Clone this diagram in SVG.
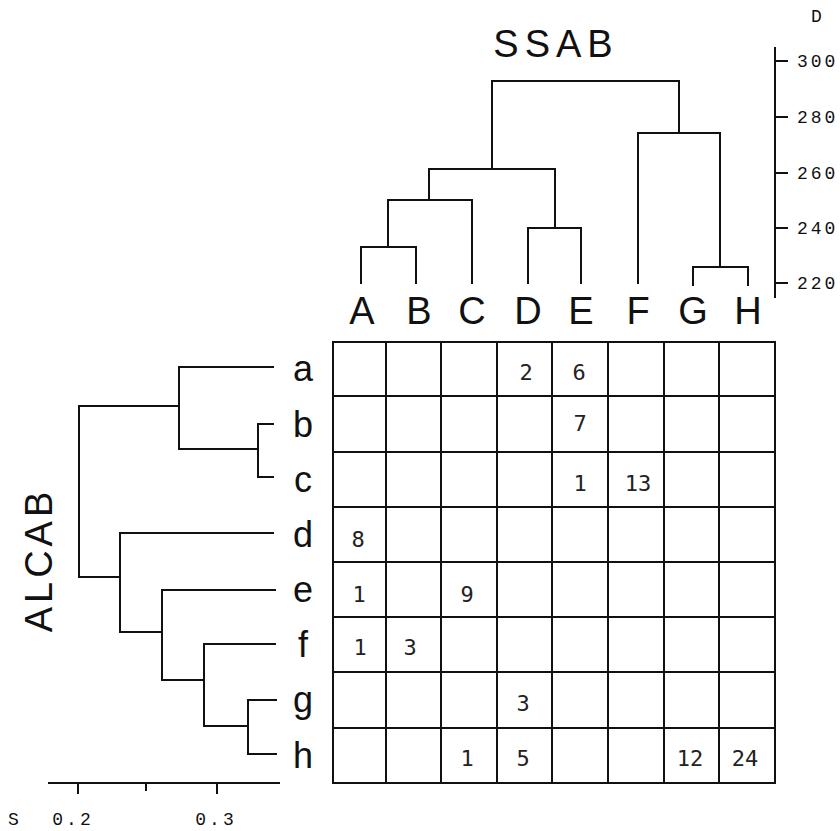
<svg xmlns="http://www.w3.org/2000/svg" width="840" height="831" viewBox="0 0 840 831">
<style>
.ln{fill:none;stroke:#111;stroke-width:2;stroke-linecap:square}
.big{font-family:"Liberation Sans",Arial,sans-serif;font-size:38px;fill:#111}
.leaf{font-family:"Liberation Sans",Arial,sans-serif;font-size:36px;fill:#111;text-anchor:middle}
.ax{font-family:"Liberation Mono","Courier New",monospace;font-size:18px;fill:#111;letter-spacing:3px}
.num{font-family:"DejaVu Sans Mono","Liberation Mono",monospace;font-size:22px;fill:#222;text-anchor:middle}
</style>
<rect width="840" height="831" fill="#fff"/>
<text class="big" x="556" y="57" text-anchor="middle" letter-spacing="6">SSAB</text>
<text class="big" transform="translate(52,560) rotate(-90)" text-anchor="middle" letter-spacing="4">ALCAB</text>

<g id="connectors">
<path class="ln" d="M361,283 V247 H416 V283"/>
<path class="ln" d="M388,247 V200 H472 V283"/>
<path class="ln" d="M429,200 V169 H555 V228"/>
<path class="ln" d="M528,283 V228 H581 V283"/>
<path class="ln" d="M492,169 V81 H679 V133"/>
<path class="ln" d="M638,283 V133 H720 V267"/>
<path class="ln" d="M693,285 V267 H748 V285"/>
<path class="ln" d="M273,367 H179 V449 H258"/>
<path class="ln" d="M273,424 H258 V477 H273"/>
<path class="ln" d="M179,406 H79 V577 H120"/>
<path class="ln" d="M273,533 H120 V632 H162"/>
<path class="ln" d="M275,590 H162 V680 H204"/>
<path class="ln" d="M275,644 H204 V726 H248"/>
<path class="ln" d="M276,700 H248 V754 H276"/>
</g>

<g id="top-leaves" class="leaf">
<text x="362" y="324" font-size="38">A</text>
<text x="419" y="324" font-size="38">B</text>
<text x="472" y="324" font-size="38">C</text>
<text x="528" y="324" font-size="38">D</text>
<text x="581" y="324" font-size="38">E</text>
<text x="638" y="324" font-size="38">F</text>
<text x="693" y="324" font-size="38">G</text>
<text x="748" y="324" font-size="38">H</text>
</g>

<g id="left-leaves" class="leaf">
<text x="303" y="381">a</text>
<text x="303" y="437">b</text>
<text x="303" y="492">c</text>
<text x="303" y="547">d</text>
<text x="303" y="602">e</text>
<text x="303" y="657">f</text>
<text x="303" y="712">g</text>
<text x="303" y="768">h</text>
</g>

<g id="scale-D">
<path class="ln" d="M775,48 V297" stroke-width="2.5"/>
<path class="ln" d="M775,61 H787 M775,117 H787 M775,173 H787 M775,228 H787 M775,283 H787"/>
<text class="ax" x="818" y="22" font-size="12" text-anchor="middle" letter-spacing="0">D</text>
<text class="ax" x="797" y="67">300</text>
<text class="ax" x="797" y="123">280</text>
<text class="ax" x="797" y="179">260</text>
<text class="ax" x="797" y="234">240</text>
<text class="ax" x="797" y="289">220</text>
</g>

<g id="scale-S">
<path class="ln" d="M49,783 H279" stroke-width="2.5"/>
<path class="ln" d="M78,783 V793 M146,783 V790 M217,783 V793"/>
<text class="ax" x="15" y="825" text-anchor="middle" font-size="14" letter-spacing="0">S</text>
<text class="ax" x="73" y="825" text-anchor="middle">0.2</text>
<text class="ax" x="216" y="825" text-anchor="middle">0.3</text>
</g>

<g id="matrix">
<path class="ln" d="M333,342 H775 V783 H333 Z"/>
<path class="ln" d="M386,342 V783 M441,342 V783 M497,342 V783 M552,342 V783 M608,342 V783 M664,342 V783 M719,342 V783"/>
<path class="ln" d="M333,396 H775 M333,452 H775 M333,507 H775 M333,562 H775 M333,617 H775 M333,672 H775 M333,728 H775"/>
<g class="num">
<text x="526" y="380">2</text>
<text x="579" y="380">6</text>
<text x="580" y="431">7</text>
<text x="580" y="491">1</text>
<text x="638" y="491">13</text>
<text x="358" y="547">8</text>
<text x="359" y="602">1</text>
<text x="467" y="602">9</text>
<text x="360" y="655">1</text>
<text x="410" y="655">3</text>
<text x="523" y="711">3</text>
<text x="467" y="766">1</text>
<text x="523" y="766">5</text>
<text x="690" y="766">12</text>
<text x="745" y="766">24</text>
</g>
</g>
</svg>
